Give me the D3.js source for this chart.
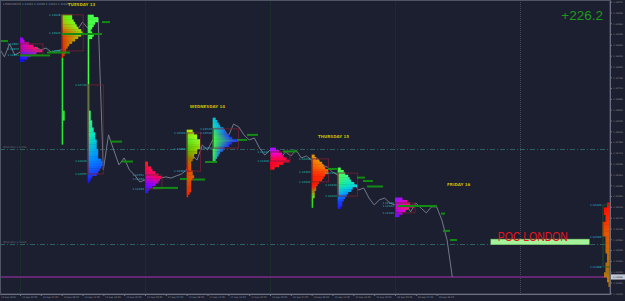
<!DOCTYPE html>
<html>
<head>
<meta charset="utf-8">
<script src="https://d3js.org/d3.v7.min.js"></script>
<style>
  body { margin: 0; background: #1c1f2f; }
  svg { display: block; }
</style>
</head>
<body>
<div id="chart"></div>
<script>
// hourly closes, first one at 12 Sep 20:00 (hours counted from 13 Sep 00:00)
const closeStart = -4;
const closes = [
  1.12880, 1.12843, 1.12897, 1.12851,
  1.12863, 1.12880, 1.12863, 1.12884, 1.12872, 1.12880, 1.12863, 1.12868,
  1.12872, 1.12913, 1.12976, 1.12955, 1.12988, 1.12963, 1.12997, 1.13005,
  1.12372, 1.12518, 1.12455, 1.12393, 1.12422, 1.12372, 1.12351, 1.12322,
  1.12330, 1.12363, 1.12318, 1.12338, 1.12343, 1.12338, 1.12347, 1.12355,
  1.12372, 1.12434, 1.12413, 1.12476, 1.12455, 1.12497, 1.12526, 1.12547,
  1.12513, 1.12563, 1.12551, 1.12518, 1.12497, 1.12505, 1.12463, 1.12434,
  1.12455, 1.12434, 1.12422, 1.12447, 1.12430, 1.12455, 1.12422, 1.12430,
  1.12413, 1.12422, 1.12393, 1.12384, 1.12363, 1.12351, 1.12330, 1.12309,
  1.12318, 1.12288, 1.12297, 1.12255, 1.12226, 1.12247, 1.12255, 1.12234,
  1.12226, 1.12205, 1.12234, 1.12197, 1.12234, 1.12213, 1.12193, 1.12218,
  1.12218, 1.12163, 1.12080, 1.11926
];

const priceTicks = [
  1.13073, 1.13028, 1.12983, 1.12938, 1.12893, 1.12848, 1.12803, 1.12758,
  1.12713, 1.12668, 1.12623, 1.12578, 1.12533, 1.12488, 1.12443, 1.12398,
  1.12353, 1.12308, 1.12263, 1.12218, 1.12173, 1.12128, 1.12083, 1.12038,
  1.11993, 1.11948, 1.11903, 1.11858
];
const timeTickHours = [-4, 0, 4, 8, 12, 16, 20, 24, 28, 32, 36, 40, 44, 48, 52, 56, 60, 64, 68, 72, 76, 80];
const timeTickLabels = [
  "12 Sep 2016", "13 Sep 00:00", "13 Sep 04:00", "13 Sep 08:00", "13 Sep 12:00", "13 Sep 16:00",
  "13 Sep 20:00", "14 Sep 00:00", "14 Sep 04:00", "14 Sep 08:00", "14 Sep 12:00", "14 Sep 16:00",
  "14 Sep 20:00", "15 Sep 00:00", "15 Sep 04:00", "15 Sep 08:00", "15 Sep 12:00", "15 Sep 16:00",
  "15 Sep 20:00", "16 Sep 00:00", "16 Sep 04:00", "16 Sep 08:00"
];

const daySeparators = [0, 24, 48, 72];
const nextDay = 96;
const dayNames = ["TUESDAY 13", "WEDNESDAY 14", "THURSDAY 15", "FRIDAY 16"];
const dayLabelHours = [9.2, 32.6, 57.2, 82];
const dayLabelPrices = [1.13057, 1.12630, 1.12503, 1.12305];

// TPO counts per 1-pip row, top row first
const tueAsia = [2, 3, 6, 9, 12, 15, 11, 7, 5, 3];
const tueLondon = [7, 7, 8, 9, 10, 11, 13, 14, 13, 11, 9, 7, 5, 4, 3, 3, 2, 1];
const tueLondonTail = [1, 1, 1, 1, 1, 1, 1, 1, 1, 1, 1, 1, 1, 1, 1, 1, 1, 1, 1, 1, 1, 1,
  2, 2, 2, 2, 1, 1, 1, 1, 1, 1, 1, 1, 1, 1];
const tueNewYork = [4, 7, 7, 5, 4, 3, 2, 3, 4, 3, 1,
  1, 1, 1, 1, 1, 1, 1, 1, 1, 1, 1, 1, 1, 1, 1, 1, 1, 1, 1, 1, 1, 1, 1, 1, 1, 1, 1, 1, 1,
  2, 2, 2, 2, 3, 3, 3, 4, 4, 5, 5, 5, 6, 6, 6, 6, 7, 7, 7, 7, 9, 10, 10, 9, 8, 7, 6, 3, 2, 1];
const wedAsia = [2, 2, 4, 5, 7, 9, 11, 10, 9, 7, 5, 3, 2];
const wedLondon = [4, 5, 7, 7, 9, 9, 9, 9, 7, 7, 5, 5, 4, 3, 3, 3, 3, 4, 4, 5, 4, 3, 3, 3, 3, 3, 2, 1];
const wedNewYork = [2, 3, 4, 5, 7, 8, 9, 11, 13, 17, 13, 11, 8, 7, 5, 4, 3, 2];
const thuAsia = [4, 6, 8, 9, 11, 13, 9, 6, 3];
const thuLondon = [2, 3, 5, 7, 8, 9, 11, 11, 9, 8, 7, 5, 4, 3, 3, 2, 2, 2, 1, 1, 1, 1];
const thuNewYork = [2, 4, 5, 7, 8, 9, 11, 13, 10, 9, 7, 6, 5, 4, 3, 3, 2];
const friAsia = [5, 8, 10, 13, 9, 7, 5, 3];
const friLondon = [2, 2, 4, 4, 4, 3, 3, 3, 5, 5, 5, 5, 5, 5, 3, 3, 3, 3, 3, 3, 3, 2, 2, 2, 2,
  3, 3, 3, 3, 4, 4, 2, 2, 1, 1];

// session start (hours), price of top row, value area / poc levels
const sessions = [
  { name: "tueAsia", start: 0, top: 1.12918, rows: tueAsia, levels: [1.12897, 1.12876, 1.12851] },
  { name: "tueLondon", start: 8, top: 1.13013, rows: tueLondon, levels: [1.13018, 1.12943, 1.12868] },
  { name: "tueLondonTail", start: 8, top: 1.12833, rows: tueLondonTail, levels: [] },
  { name: "tueNewYork", start: 13, top: 1.13013, rows: tueNewYork, levels: [1.12726, 1.12409, 1.12355] },
  { name: "wedAsia", start: 24, top: 1.12401, rows: wedAsia, levels: [1.12351, 1.12334, 1.12293] },
  { name: "wedLondon", start: 32, top: 1.12534, rows: wedLondon, levels: [1.12526, 1.12459, 1.12367] },
  { name: "wedNewYork", start: 37, top: 1.12584, rows: wedNewYork, levels: [1.12543, 1.12526, 1.12463] },
  { name: "thuAsia", start: 48, top: 1.12459, rows: thuAsia, levels: [1.12447, 1.12409] },
  { name: "thuLondon", start: 56, top: 1.12430, rows: thuLondon, levels: [1.12418, 1.12363, 1.12322] },
  { name: "thuNewYork", start: 61, top: 1.12376, rows: thuNewYork, levels: [1.12359, 1.12309, 1.12263] },
  { name: "friAsia", start: 72, top: 1.12251, rows: friAsia, levels: [1.12234, 1.12222, 1.12193] },
  { name: "friLondon", start: 80, top: 1.12230, rows: friLondon, levels: [1.12226, 1.12093, 1.11968] }
];

// untested pocs: [from hour, to hour, price]
const nakedPocs = [
  [-3.84, -2.3, 1.12909], [0, 5.76, 1.12849], [5.18, 9.6, 1.12861], [8.06, 15.74, 1.12938],
  [15.74, 17.28, 1.12988], [17.28, 19.58, 1.12490], [19.58, 21.7, 1.12407], [25.54, 30.34, 1.12297],
  [30.72, 32.06, 1.12334], [33.22, 35.52, 1.12332], [35.52, 37.82, 1.12405], [41.66, 43.58, 1.12497],
  [43.58, 45.7, 1.12518], [50.5, 53.18, 1.12449], [59.14, 60.86, 1.12376], [64.7, 66.24, 1.12340],
  [65.86, 67.78, 1.12326], [66.62, 69.7, 1.12303], [72.58, 80.06, 1.12222], [80.83, 81.6, 1.12190],
  [81.22, 82.56, 1.12118], [82.56, 83.9, 1.12080]
];

const weeklyLevels = [1.12459, 1.12063];
const bidPrice = 1.11926;
const londonPoc = { from: 90.4, to: 109.3, price: 1.12072 };
const profitPips = "+226.2";

// colours, left edge -> right edge of each row, ramped top -> bottom
const sessionStyle = {
  tueAsia: { left: ["#9a00ff", "#b000e8", "#c000c0", "#4020ff", "#1010ff"], right: ["#a000ff", "#ff0090", "#ff2040", "#7020ff", "#1010ff"] },
  tueLondon: { left: ["#70e000", "#b0b000", "#e05000", "#e03000", "#e02000", "#ff2000"], right: ["#60ff20", "#80ff20", "#a0e000", "#c0a000", "#d06000", "#e03000"] },
  tueLondonTail: { left: ["#20e030", "#20e030"], right: ["#30f040", "#30f040"] },
  tueNewYork: { left: ["#40ff40", "#40ff40", "#40ff40", "#40ff40", "#40ff40", "#20f080", "#00a0ff", "#1020ff"], right: ["#50ff50", "#50ff50", "#50ff50", "#40ff40", "#30ff60", "#00e0e0", "#0080ff", "#3010ff"] },
  wedAsia: { left: ["#ff1010", "#ff0040", "#d000c0", "#8000ff", "#2020ff"], right: ["#ff2020", "#ff1060", "#ff0040", "#a000ff", "#2020ff"] },
  wedLondon: { left: ["#a0e000", "#60e020", "#50c000", "#907000", "#ff2000", "#e05000", "#d04000", "#ff2000"], right: ["#c0f000", "#90ff20", "#a0d000", "#a08000", "#e06000", "#e06000", "#e04000", "#ff2000"] },
  wedNewYork: { left: ["#00d0d0", "#20e0a0", "#40ff40", "#40ff40", "#40ff40", "#30f040"], right: ["#00c0e0", "#00a0ff", "#2040ff", "#2020ff", "#2060ff", "#20c0a0"] },
  thuAsia: { left: ["#9020ff", "#e000e0", "#ff0060", "#ff0030", "#e00020"], right: ["#c000ff", "#ff00a0", "#ff0040", "#ff1020", "#ff2020"] },
  thuLondon: { left: ["#e09000", "#f06000", "#ff2000", "#ff1000", "#30e030", "#20e020"], right: ["#e0a000", "#ff8000", "#ff3000", "#ff2000", "#a0d000", "#20e020"] },
  thuNewYork: { left: ["#40ff40", "#40ff40", "#20f080", "#00d0e0", "#0060ff", "#2020ff"], right: ["#60ff60", "#40f0a0", "#00e0e0", "#00a0ff", "#2040ff", "#2020ff"] },
  friAsia: { left: ["#8020ff", "#c000ff", "#e000c0", "#a000ff", "#6020ff"], right: ["#c000ff", "#ff0080", "#ff2040", "#e000e0", "#8000ff"] },
  friLondon: { left: ["#ff0000", "#ff2000", "#e05000", "#d06000", "#c07000", "#b07010", "#d08000"], right: ["#ff1000", "#ff3000", "#f05000", "#e06000", "#c07000", "#a07010", "#e08000"], alignRight: true, box: "#1d5a2a" }
};

const width = 625, height = 301;
const plotRight = 610, plotBottom = 294;
const rowStep = 0.0001;

const svg = d3.select("#chart")
  .append("svg")
  .attr("width", width)
  .attr("height", height)
  .style("font-family", "'DejaVu Sans', sans-serif");

svg.append("rect").attr("width", width).attr("height", height).attr("fill", "#1c1f2f");

const x = d3.scaleLinear().domain([-3.84, 113.28]).range([0, plotRight]);
const y = d3.scaleLinear().domain([1.1308 - plotBottom / 24000, 1.1308]).range([plotBottom, 0]);
const count = d3.scaleLinear().domain([0, 1]).range([0, 1.5]);
const rowH = y(0) - y(rowStep);

const plot = svg.append("g");

// day separators
plot.selectAll(".sep")
  .data(daySeparators)
  .join("line")
  .attr("x1", d => Math.round(x(d)) + 0.5).attr("x2", d => Math.round(x(d)) + 0.5)
  .attr("y1", 0).attr("y2", plotBottom)
  .attr("stroke", "#1b3a28").attr("stroke-dasharray", "1,1");

plot.append("line")
  .attr("x1", Math.round(x(nextDay)) + 0.5).attr("x2", Math.round(x(nextDay)) + 0.5)
  .attr("y1", 0).attr("y2", plotBottom)
  .attr("stroke", "#444a5e").attr("stroke-dasharray", "1,1");

// weekly levels
plot.selectAll(".lvl")
  .data(weeklyLevels)
  .join("line")
  .attr("x1", 0).attr("x2", plotRight)
  .attr("y1", d => Math.round(y(d)) + 0.5).attr("y2", d => Math.round(y(d)) + 0.5)
  .attr("stroke", "#2b605e").attr("stroke-dasharray", "5,2,1,2");

plot.selectAll(".lvlText")
  .data(weeklyLevels)
  .join("text")
  .attr("x", 3).attr("y", d => y(d) - 1)
  .attr("font-size", 2.4).attr("fill", "#6a7080")
  .text(d => "#POC(W1) " + d.toFixed(5));

// bid line
plot.append("line")
  .attr("x1", 0).attr("x2", plotRight)
  .attr("y1", y(bidPrice)).attr("y2", y(bidPrice))
  .attr("stroke", "#642872").attr("stroke-width", 2);

// price line
const line = d3.line()
  .x((d, i) => x(closeStart + i))
  .y(d => y(d));

plot.append("path")
  .datum(closes)
  .attr("d", line)
  .attr("fill", "none")
  .attr("stroke", "#737989")
  .attr("stroke-width", 1);

// profiles
const defs = svg.append("defs");
const labelColor = "#22b8c0";

sessions.forEach((s, si) => {
  const st = sessionStyle[s.name];
  const n = s.rows.length;
  const leftRamp = d3.piecewise(d3.interpolateRgb, st.left);
  const rightRamp = d3.piecewise(d3.interpolateRgb, st.right);
  const rows = s.rows.map((c, i) => ({ c, i, price: s.top - i * rowStep, t: n > 1 ? i / (n - 1) : 0 }));

  rows.forEach(r => {
    const g = defs.append("linearGradient").attr("id", `g${si}_${r.i}`);
    g.append("stop").attr("offset", 0).attr("stop-color", leftRamp(r.t));
    g.append("stop").attr("offset", 1).attr("stop-color", rightRamp(r.t));
  });

  const maxW = count(d3.max(s.rows));
  const x0 = st.alignRight ? plotRight - maxW : x(s.start);

  plot.append("g")
    .selectAll("rect")
    .data(rows)
    .join("rect")
    .attr("x", d => st.alignRight ? plotRight - count(d.c) : x0)
    .attr("y", d => y(d.price) - rowH / 2 - 0.2)
    .attr("width", d => count(d.c))
    .attr("height", rowH + 0.4)
    .attr("fill", d => `url(#g${si}_${d.i})`);

  if (s.levels.length) {
    const hi = d3.max(s.levels), lo = d3.min(s.levels);
    plot.append("rect")
      .attr("x", x0 + 0.5).attr("y", y(hi))
      .attr("width", maxW).attr("height", y(lo) - y(hi))
      .attr("fill", "none")
      .attr("stroke", st.box || "#7a2035")
      .attr("stroke-width", 0.8);

    plot.append("g")
      .selectAll("text")
      .data(s.levels)
      .join("text")
      .attr("x", x0 - 1)
      .attr("y", d => y(d) + 1)
      .attr("text-anchor", "end")
      .attr("font-size", 2.8)
      .attr("fill", labelColor)
      .text(d => d.toFixed(5));
  }
});

// naked pocs
plot.append("g")
  .selectAll("line")
  .data(nakedPocs)
  .join("line")
  .attr("x1", d => x(d[0])).attr("x2", d => x(d[1]))
  .attr("y1", d => y(d[2])).attr("y2", d => y(d[2]))
  .attr("stroke", "#138a13")
  .attr("stroke-width", 2);

// london poc
plot.append("rect")
  .attr("x", x(londonPoc.from)).attr("width", x(londonPoc.to) - x(londonPoc.from))
  .attr("y", y(londonPoc.price) - 2.8).attr("height", 5.6)
  .attr("fill", "#a6f29a").attr("stroke", "#6cc060").attr("stroke-width", 0.5);

plot.append("text")
  .attr("x", x(londonPoc.from) + 7).attr("y", y(londonPoc.price) - 0.6)
  .attr("font-family", "'Liberation Sans', Arial, sans-serif")
  .attr("font-size", 12.5)
  .attr("textLength", 70).attr("lengthAdjust", "spacingAndGlyphs")
  .attr("fill", "#e8141e")
  .text("POC LONDON");

// day names
plot.selectAll(".day")
  .data(dayNames)
  .join("text")
  .attr("x", (d, i) => x(dayLabelHours[i]))
  .attr("y", (d, i) => y(dayLabelPrices[i]))
  .attr("font-size", 4)
  .attr("font-weight", "bold")
  .attr("fill", "#c8bc00")
  .text(d => d);

// frame
svg.append("rect")
  .attr("x", 0.5).attr("y", 0.5)
  .attr("width", plotRight - 0.5).attr("height", plotBottom - 0.5)
  .attr("fill", "none").attr("stroke", "#4e5566");

// axes
const yAxis = svg.append("g")
  .attr("transform", `translate(${plotRight},0)`)
  .call(d3.axisRight(y).tickValues(priceTicks).tickFormat(d3.format(".5f")).tickSize(2).tickSizeOuter(0));

const xAxis = svg.append("g")
  .attr("transform", `translate(0,${plotBottom})`)
  .call(d3.axisBottom(x).tickValues(timeTickHours).tickFormat((d, i) => timeTickLabels[i]).tickSize(2).tickSizeOuter(0));

[yAxis, xAxis].forEach(a => {
  a.select(".domain").attr("stroke", "#6a7082");
  a.selectAll(".tick line").attr("stroke", "#6a7082");
  a.selectAll("text").attr("fill", "#8a90a0").attr("font-size", 2.3).attr("font-family", "'DejaVu Sans', sans-serif");
});
yAxis.selectAll("text").attr("x", 3.2);
xAxis.selectAll("text").attr("text-anchor", "start").attr("dx", 1.5).attr("y", 2.4);

// bid box on price scale
svg.append("rect")
  .attr("x", plotRight + 1).attr("y", y(bidPrice) - 2.6)
  .attr("width", 14).attr("height", 5.2)
  .attr("fill", "#c4c8d0");
svg.append("text")
  .attr("x", plotRight + 3).attr("y", y(bidPrice) + 0.8)
  .attr("font-size", 2.3).attr("fill", "#1c1f2f")
  .text(bidPrice.toFixed(5));

// title and result
svg.append("text")
  .attr("x", 3).attr("y", 5)
  .attr("font-size", 2.7).attr("fill", "#8a90a0")
  .text("\u25BE EURUSD,H1  1.11929 1.11936 1.11921 1.11926");

svg.append("text")
  .attr("x", 603).attr("y", 20)
  .attr("text-anchor", "end")
  .attr("font-family", "'Liberation Sans', Arial, sans-serif")
  .attr("font-size", 13.5)
  .attr("fill", "#1c9a1c")
  .text(profitPips);
</script>
</body>
</html>
